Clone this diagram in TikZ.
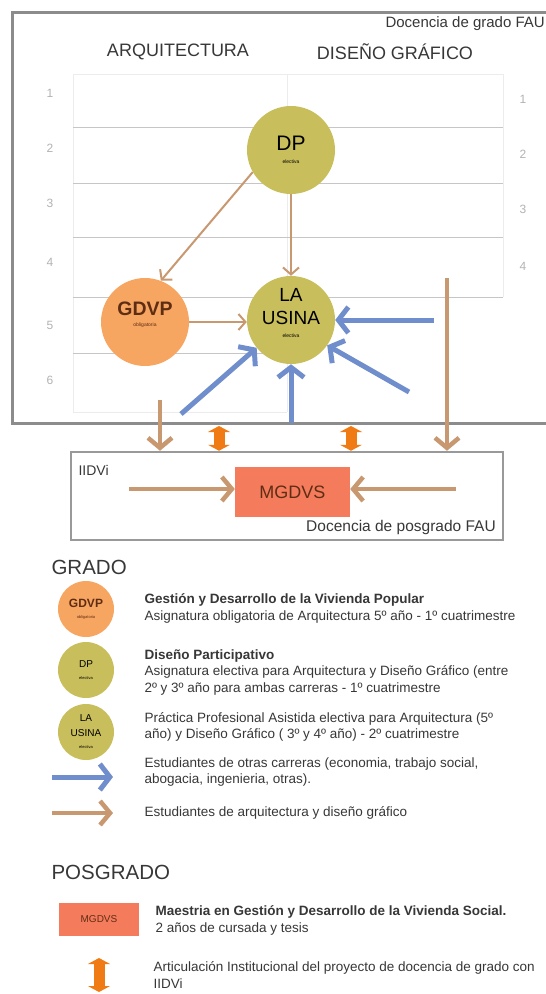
\documentclass[tikz,border=0pt]{standalone}
\usepackage{fontspec}
\setmainfont{Liberation Sans}
\usetikzlibrary{arrows.meta, positioning}
\definecolor{olivo}{RGB}{201,190,92}
\definecolor{naranja}{RGB}{247,166,98}
\definecolor{coral}{RGB}{244,124,92}
\definecolor{marron}{RGB}{200,152,112}
\definecolor{azul}{RGB}{112,142,204}
\definecolor{naranjafuerte}{RGB}{240,122,20}
\definecolor{textogris}{RGB}{55,55,55}
\definecolor{cafe}{RGB}{95,45,20}

\begin{document}
\begin{tikzpicture}[x=1pt, y=-1pt,
  circulo/.style={circle, minimum size=88pt, inner sep=0pt, align=center},
  circulochico/.style={circle, minimum size=56pt, inner sep=0pt, align=center},
  rotulo/.style={anchor=west, align=left, text=textogris, font=\fontsize{13.5}{16.5}\selectfont},
  titulo/.style={text=textogris, font=\fontsize{18}{20}\selectfont},
  num/.style={text=gray!60, font=\fontsize{12}{14}\selectfont},
  flecha/.style={marron, line width=2pt, -{Straight Barb[length=7pt,width=16pt]}},
  flechagruesa/.style={marron, line width=4.5pt, -{Straight Barb[length=10pt,width=24pt]}},
  flechaazul/.style={azul, line width=5pt, -{Straight Barb[length=10pt,width=26pt]}},
  doble/.style={naranjafuerte, line width=11pt, {Triangle[length=6pt,width=22pt]}-{Triangle[length=6pt,width=22pt]}},
  grilla/.style={gray!45, line width=0.8pt},
  borde/.style={gray!15, line width=0.8pt}
]
\useasboundingbox (0,0) rectangle (546,994);

\draw[gray!90, line width=3pt] (12.5,12) rectangle (560,423);
\node[anchor=west, text=textogris, font=\fontsize{15}{18}\selectfont] (gradoFAU) at (382,24) {Docencia de grado FAU};
\node[titulo] (arq) at (178,52) {ARQUITECTURA};
\node[titulo] (dg) at (395,52) {DISEÑO GRÁFICO};

\draw[borde] (73,412) -- (73,74) -- (503,74) -- (503,297);
\draw[borde] (287,74) -- (287,412);
\draw[borde] (73,412) -- (287,412);
\draw[grilla] (73,127) -- (503,127);
\draw[grilla] (73,183) -- (503,183);
\draw[grilla] (73,237) -- (503,237);
\draw[grilla] (73,297) -- (503,297);
\draw[grilla] (73,353) -- (287,353);

\node[num] (i1) at (50,93) {1};
\node[num] (i2) at (50,148) {2};
\node[num] (i3) at (50,203) {3};
\node[num] (i4) at (50,262) {4};
\node[num] (i5) at (50,325) {5};
\node[num] (i6) at (50,380) {6};
\node[num] (d1) at (523,99) {1};
\node[num] (d2) at (523,154) {2};
\node[num] (d3) at (523,209) {3};
\node[num] (d4) at (523,266) {4};

\node[circulo, fill=olivo] (dp) at (291,150) {\fontsize{21}{22}\selectfont DP\\[1pt]\fontsize{5}{6}\selectfont electiva};
\node[circulo, fill=naranja, text=cafe] (gdvp) at (145,322) {\fontsize{19.5}{20}\selectfont\bfseries GDVP\\[-1pt]\fontsize{5}{6}\selectfont\mdseries obligatoria\\[4pt]\mbox{}};
\node[circulo, fill=olivo] (usina) at (291,320) {\fontsize{19}{21}\selectfont LA\\[8pt]\fontsize{19}{21}\selectfont USINA\\[1pt]\fontsize{5}{6}\selectfont electiva\\[2pt]\mbox{}};

\draw[flecha] (dp.210) -- (gdvp.69);
\draw[flecha] (dp.south) -- (usina.north);
\draw[flecha] (gdvp.east) -- (gdvp.east -| usina.west);

\coordinate (azulE) at (434,320);
\coordinate (azulSE) at (409,392);
\coordinate (azulS) at (291,423);
\coordinate (azulSO) at (181,414);
\draw[flechaazul] (azulE) -- (usina.east);
\draw[flechaazul] (azulSE) -- (usina.-35);
\draw[flechaazul] (azulS) -- (usina.south);
\draw[flechaazul] (azulSO) -- (usina.-141);

\node[draw=gray!80, line width=2.5pt, minimum width=432pt, minimum height=88pt] (iidvi) at (287,496) {};
\node[anchor=west, text=textogris, font=\fontsize{14}{16}\selectfont] (iidvilabel) at (75,470) {IIDVi};
\node[fill=coral, minimum width=115pt, minimum height=50pt, text=cafe, font=\fontsize{18}{20}\selectfont] (mgdvs) at (292.5,492) {MGDVS};
\node[text=textogris, font=\fontsize{15.5}{18}\selectfont] (posgradoFAU) at (401,527) {Docencia de posgrado FAU};

\coordinate (origenD) at (447,278);
\coordinate (origenI) at (160,400);
\draw[flechagruesa] (origenD) -- (origenD |- iidvi.north);
\draw[flechagruesa] (origenI) -- (origenI |- iidvi.north);
\coordinate (artI) at (219,426);
\coordinate (artD) at (351,426);
\draw[doble] (artI) -- (artI |- iidvi.north);
\draw[doble] (artD) -- (artD |- iidvi.north);
\coordinate (entI) at (129,489);
\coordinate (entD) at (456,489);
\draw[flechagruesa] (entI) -- (entI -| mgdvs.west);
\draw[flechagruesa] (entD) -- (entD -| mgdvs.east);

\node[anchor=west, text=textogris, font=\fontsize{20.5}{22}\selectfont] (grado) at (48,567) {GRADO};
\node[circulochico, fill=naranja, text=cafe] (leyGdvp) at (86,609) {\fontsize{12}{13}\selectfont\bfseries GDVP\\[-1pt]\fontsize{4}{5}\selectfont\mdseries obligatoria};
\node[circulochico, fill=olivo] (leyDp) at (86,670) {\fontsize{10}{11}\selectfont DP\\[0pt]\fontsize{4}{5}\selectfont electiva};
\node[circulochico, fill=olivo] (leyUsina) at (86,732) {\fontsize{10}{11}\selectfont LA\\[3pt]\fontsize{10}{11}\selectfont USINA\\[0pt]\fontsize{4}{5}\selectfont electiva};
\node[rotulo] (txtGdvp) at (141,608.5) {\textbf{Gestión y Desarrollo de la Vivienda Popular}\\Asignatura obligatoria de Arquitectura 5º año - 1º cuatrimestre};
\node[rotulo] (txtDp) at (141,672) {\textbf{Diseño Participativo}\\Asignatura electiva para Arquitectura y Diseño Gráfico (entre\\2º y 3º año para ambas carreras - 1º cuatrimestre};
\node[rotulo] (txtUsina) at (141,727) {Práctica Profesional Asistida electiva para Arquitectura (5º\\año) y Diseño Gráfico ( 3º y 4º año) - 2º cuatrimestre};
\coordinate (leyAzulA) at (52,777);
\coordinate (leyAzulB) at (113,777);
\draw[flechaazul] (leyAzulA) -- (leyAzulB);
\node[rotulo] (txtAzul) at (141,772) {Estudiantes de otras carreras (economia, trabajo social,\\abogacia, ingenieria, otras).};
\coordinate (leyMarronA) at (52,813);
\coordinate (leyMarronB) at (113,813);
\draw[flechagruesa] (leyMarronA) -- (leyMarronB);
\node[rotulo] (txtMarron) at (141,813) {Estudiantes de arquitectura y diseño gráfico};

\node[anchor=west, text=textogris, font=\fontsize{20.5}{22}\selectfont] (posgrado) at (48,872) {POSGRADO};
\node[fill=coral, minimum width=80pt, minimum height=33pt, text=cafe, font=\fontsize{10}{12}\selectfont] (leyMgdvs) at (99,919.5) {MGDVS};
\node[rotulo] (txtMgdvs) at (152,920.5) {\textbf{Maestria en Gestión y Desarrollo de la Vivienda Social.}\\2 años de cursada y tesis};
\coordinate (leyDobleA) at (99,958);
\coordinate (leyDobleB) at (99,992);
\draw[doble] (leyDobleA) -- (leyDobleB);
\node[rotulo] (txtDoble) at (150,975) {Articulación Institucional del proyecto de docencia de grado con\\IIDVi};
\end{tikzpicture}
\end{document}
